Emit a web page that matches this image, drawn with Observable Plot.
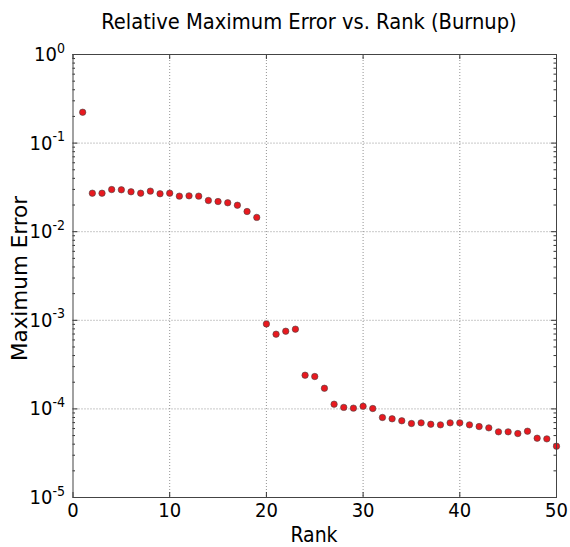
<!DOCTYPE html>
<html><head><meta charset="utf-8">
<script src="https://cdn.jsdelivr.net/npm/d3@7"></script>
<script src="https://cdn.jsdelivr.net/npm/@observablehq/plot@0.6"></script>
<style>
body{margin:0;background:#fff;}
#chart{position:relative;width:570px;height:547px;}
</style></head><body><div id="chart"></div>
<script>
const title = "Relative Maximum Error vs. Rank (Burnup)";
const xLabel = "Rank";
const yLabel = "Maximum Error";
const ranks = [1,2,3,4,5,6,7,8,9,10,11,12,13,14,15,16,17,18,19,20,21,22,23,24,25,26,27,28,29,30,31,32,33,34,35,36,37,38,39,40,41,42,43,44,45,46,47,48,49,50];
const maxError = [
  0.223, 0.0272, 0.0272, 0.0299, 0.0297, 0.0282, 0.0272, 0.0287, 0.0268, 0.0272,
  0.0252, 0.0254, 0.0252, 0.0225, 0.0219, 0.0212, 0.0199, 0.0169, 0.0145,
  9.1e-4, 6.97e-4, 7.53e-4, 7.94e-4, 2.40e-4, 2.32e-4, 1.71e-4, 1.13e-4, 1.04e-4, 1.02e-4, 1.07e-4,
  1.01e-4, 8.0e-5, 7.73e-5, 7.34e-5, 6.84e-5, 6.96e-5, 6.71e-5, 6.61e-5, 6.96e-5, 6.96e-5,
  6.61e-5, 6.32e-5, 6.11e-5, 5.51e-5, 5.51e-5, 5.27e-5, 5.60e-5, 4.67e-5, 4.59e-5, 3.79e-5
];
const xTicks = [0, 10, 20, 30, 40, 50];
const yExponents = [-5, -4, -3, -2, -1, 0];

const data = ranks.map((r, i) => ({rank: r, err: maxError[i]}));
const W = 570, H = 547, mt = 54, mb = 50, ml = 72.5, mr = 14;
const fw = W - ml - mr, fh = H - mt - mb;
const majorY = yExponents.map(e => Math.pow(10, e));
const minorY = yExponents.slice(0, -1).flatMap(e => [2,3,4,5,6,7,8,9].map(m => m * Math.pow(10, e)));
const font = "'DejaVu Sans Condensed','DejaVu Sans',sans-serif";
const gridStyle = {stroke: "#777", strokeOpacity: 1, strokeDasharray: "1,2", strokeWidth: 0.8};
const tickColor = "#333";

const chart = Plot.plot({
  width: W, height: H,
  marginTop: mt, marginBottom: mb, marginLeft: ml, marginRight: mr,
  style: {fontFamily: font, fontSize: "20px", background: "white", color: "#000", overflow: "visible"},
  x: {domain: [0, 50]},
  y: {type: "log", domain: [1e-5, 1]},
  marks: [
    Plot.gridX(xTicks.slice(1, -1), gridStyle),
    Plot.gridY(majorY.slice(1, -1), gridStyle),
    Plot.ruleX(xTicks, {x: d => d, insetTop: fh - 5, stroke: tickColor}),
    Plot.ruleX(xTicks, {x: d => d, insetBottom: fh - 5, stroke: tickColor}),
    Plot.ruleY(majorY, {y: d => d, insetRight: fw - 5, stroke: tickColor}),
    Plot.ruleY(majorY, {y: d => d, insetLeft: fw - 5, stroke: tickColor}),
    Plot.ruleY(minorY, {y: d => d, insetRight: fw - 2.5, stroke: tickColor}),
    Plot.ruleY(minorY, {y: d => d, insetLeft: fw - 2.5, stroke: tickColor}),
    Plot.axisX(xTicks, {tickSize: 0, tickPadding: 5, fontSize: 20, label: null}),
    Plot.axisY(majorY, {tickSize: 0, tickPadding: 8, fontSize: 20, label: null,
      tickFormat: d => String(Math.round(Math.log10(d)))}),
    Plot.dot(data, {x: "rank", y: "err", r: 3.2, fill: "#e8191f", stroke: "#444", strokeWidth: 0.6}),
    Plot.frame({stroke: "#444", strokeWidth: 1})
  ]
});

const svg = d3.select(chart);
svg.selectAll('g[aria-label="y-axis tick label"] text').each(function () {
  const e = this.textContent;
  this.textContent = "10";
  d3.select(this).append("tspan").attr("dy", "-0.6em").attr("font-size", "0.7em").text(e);
});
svg.append("text").attr("x", 309).attr("y", 28.5).attr("text-anchor", "middle")
  .attr("font-size", 21.7).attr("font-family", font).attr("fill", "#000").text(title);
svg.append("text").attr("x", 314).attr("y", 541.5).attr("text-anchor", "middle")
  .attr("font-size", 21).attr("font-family", font).attr("fill", "#000").text(xLabel);
svg.append("text").attr("transform", "translate(27,278.5) rotate(-90)").attr("text-anchor", "middle")
  .attr("font-size", 21.5).attr("font-family", "'DejaVu Sans',sans-serif").attr("fill", "#000").text(yLabel);

document.getElementById("chart").appendChild(chart);
</script></body></html>
